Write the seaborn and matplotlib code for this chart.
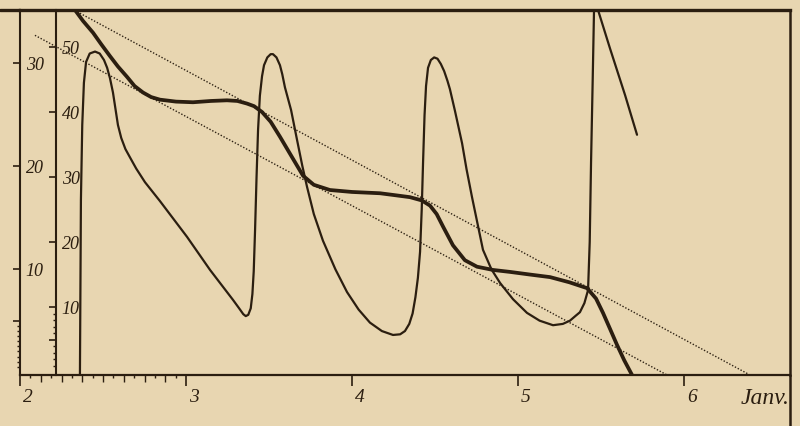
import matplotlib
matplotlib.use("Agg")
import matplotlib.pyplot as plt
import matplotlib.transforms as mtransforms
from matplotlib.lines import Line2D
from matplotlib.ticker import FixedLocator, FixedFormatter
import seaborn as sns

thick_days = [2.331, 2.38, 2.44, 2.49, 2.542, 2.59, 2.645, 2.69, 2.741, 2.79,
              2.843, 2.94, 3.042, 3.15, 3.247, 3.31, 3.367, 3.41, 3.458, 3.51,
              3.566, 3.64, 3.705, 3.77, 3.867, 4.0, 4.169, 4.26, 4.349, 4.42,
              4.470, 4.51, 4.55, 4.608, 4.68, 4.753, 4.85, 4.952, 5.07, 5.193,
              5.31, 5.416, 5.47, 5.512, 5.555, 5.596, 5.64, 5.687]
thick_vals = [55.7, 54.0, 52.2, 50.4, 48.6, 47.0, 45.4, 44.0, 43.0, 42.3,
              41.9, 41.6, 41.5, 41.7, 41.8, 41.7, 41.3, 40.9, 40.0, 38.5,
              36.2, 33.0, 30.2, 28.8, 28.0, 27.7, 27.5, 27.2, 26.9, 26.4,
              25.6, 24.3, 22.3, 19.5, 17.2, 16.2, 15.7, 15.4, 15.0, 14.6,
              13.8, 12.9, 11.3, 9.1, 6.6, 4.2, 1.8, -0.46]

thin_days = [2.361, 2.367, 2.375, 2.385, 2.398, 2.42, 2.452, 2.48, 2.506, 2.525,
             2.542, 2.56, 2.572, 2.59, 2.61, 2.635, 2.663, 2.70, 2.753, 2.843,
             3.006, 3.145, 3.283, 3.32, 3.345, 3.36, 3.375, 3.39, 3.40, 3.408,
             3.416, 3.425, 3.434, 3.445, 3.458, 3.47, 3.49, 3.51, 3.524, 3.545,
             3.566, 3.58, 3.596, 3.633, 3.669, 3.70, 3.729, 3.77, 3.825, 3.90,
             3.970, 4.04, 4.108, 4.18, 4.247, 4.29, 4.319, 4.345, 4.365, 4.382,
             4.397, 4.41, 4.42, 4.428, 4.437, 4.446, 4.458, 4.475, 4.495, 4.515,
             4.535, 4.555, 4.575, 4.590, 4.62, 4.663, 4.69, 4.723, 4.789, 4.84,
             4.892, 4.97, 5.054, 5.13, 5.211, 5.27, 5.313, 5.345, 5.373, 5.40,
             5.422, 5.432, 5.440, 5.450, 5.458, 5.482, 5.554, 5.645, 5.717]
thin_vals = [-0.46, 26.5, 38.0, 44.5, 47.7, 49.0, 49.3, 49.0, 48.0, 46.8,
             45.2, 43.0, 41.0, 38.0, 36.0, 34.3, 33.0, 31.3, 29.2, 26.3,
             20.8, 15.7, 11.1, 9.8, 8.9, 8.6, 8.8, 9.8, 12.0, 15.5,
             21.8, 30.0, 37.2, 42.5, 45.5, 47.2, 48.4, 48.9, 48.9, 48.4,
             47.2, 45.8, 43.8, 40.3, 35.7, 31.8, 28.5, 24.3, 20.2, 15.8,
             12.3, 9.6, 7.6, 6.3, 5.7, 5.8, 6.3, 7.4, 9.0, 11.5,
             14.5, 18.5, 25.0, 32.2, 39.5, 44.0, 46.8, 48.0, 48.4, 48.2,
             47.4, 46.3, 44.8, 43.5, 40.2, 35.2, 31.2, 26.9, 18.8, 15.8,
             13.7, 11.2, 9.1, 7.9, 7.2, 7.4, 7.9, 8.6, 9.2, 10.6,
             12.6, 20.0, 32.2, 45.0, 55.7, 55.7, 49.8, 42.6, 36.5]

upper_days = [2.361, 6.386]
upper_vals = [55.2, -0.3]
lower_days = [2.090, 5.898]
lower_vals = [51.8, -0.46]

day_ticks = [2, 3, 4, 5, 6]
day_labels = ["2", "3", "4", "5", "6"]
inner_ticks = [5, 10, 20, 30, 40, 50]
inner_labels = ["", "10", "20", "30", "40", "50"]
outer_ticks = [5, 10, 20, 30]
outer_labels = ["", "10", "20", "30"]

paper = "#e8d6b1"
ink = "#2b1e10"

sns.set_theme(style="white", rc={"axes.facecolor": paper, "figure.facecolor": paper})
plt.rcParams["font.family"] = ["Liberation Serif", "DejaVu Serif"]
plt.rcParams["font.style"] = "italic"

fig = plt.figure(figsize=(8, 4.26), dpi=100)
ax = fig.add_axes([0.025, 0.1197, 0.9625, 0.8568])

sns.lineplot(x=upper_days, y=upper_vals, ax=ax, color="#2e2214", lw=1.0,
             linestyle=(0, (1, 1.3)), estimator=None, sort=False)
sns.lineplot(x=lower_days, y=lower_vals, ax=ax, color="#2e2214", lw=1.0,
             linestyle=(0, (1, 1.3)), estimator=None, sort=False)
sns.lineplot(x=thin_days, y=thin_vals, ax=ax, color=ink, lw=1.6,
             estimator=None, sort=False)
sns.lineplot(x=thick_days, y=thick_vals, ax=ax, color=ink, lw=2.7,
             estimator=None, sort=False)

ax.set_xlim(2, 2 + 770 / 166)
ax.set_ylim(-3 / 6.5, 362 / 6.5)
ax.set_xlabel("")
ax.set_ylabel("")

# cadre
for side in ["top", "right", "bottom", "left"]:
    ax.spines[side].set_color(ink)
ax.spines["top"].set_linewidth(2.4)
ax.spines["right"].set_linewidth(1.8)
ax.spines["bottom"].set_linewidth(1.6)
ax.spines["left"].set_linewidth(1.5)
ax.spines["left"].set_position(("data", 2 + 36 / 166))

# échelle intérieure
ax.yaxis.set_major_locator(FixedLocator(inner_ticks))
ax.yaxis.set_major_formatter(FixedFormatter(inner_labels))
ax.yaxis.set_minor_locator(FixedLocator([1, 2, 3, 4, 6, 7, 8, 9]))
ax.tick_params(axis="y", which="major", left=True, direction="out", length=5,
               width=1.2, color=ink, labelcolor=ink, labelsize=13, pad=-9)
ax.tick_params(axis="y", which="minor", left=True, direction="out", length=2,
               width=1, color=ink)
for lbl in ax.get_yticklabels():
    lbl.set_ha("left")

# échelle extérieure
outer = ax.secondary_yaxis(0.0, functions=(lambda v: v * 6.5 / 10.3,
                                           lambda v: v * 10.3 / 6.5))
outer.spines["left"].set_color(ink)
outer.spines["left"].set_linewidth(1.5)
outer.yaxis.set_major_locator(FixedLocator(outer_ticks))
outer.yaxis.set_major_formatter(FixedFormatter(outer_labels))
outer.yaxis.set_minor_locator(FixedLocator([0.5, 1, 1.5, 2, 2.5, 3, 3.5, 4, 4.5]))
outer.tick_params(axis="y", which="major", direction="out", length=5, width=1.2,
                  color=ink, labelcolor=ink, labelsize=13, pad=-9)
outer.tick_params(axis="y", which="minor", direction="out", length=2, width=1,
                  color=ink)
for lbl in outer.get_yticklabels():
    lbl.set_ha("left")

# jours
ax.xaxis.set_major_locator(FixedLocator(day_ticks))
ax.xaxis.set_major_formatter(FixedFormatter(day_labels))
ax.xaxis.set_minor_locator(FixedLocator([2 + k / 8 for k in range(1, 8)]))
ax.tick_params(axis="x", which="major", bottom=True, direction="out", length=8,
               width=1.2, color=ink, labelcolor=ink, labelsize=14, pad=2)
ax.tick_params(axis="x", which="minor", bottom=True, direction="out", length=5,
               width=1, color=ink)
shift = mtransforms.ScaledTranslation(8 / 100, 0, fig.dpi_scale_trans)
for lbl in ax.get_xticklabels():
    lbl.set_transform(lbl.get_transform() + shift)

hours = ax.secondary_xaxis("bottom")
hours.spines["bottom"].set_visible(False)
hours.xaxis.set_major_locator(FixedLocator([2 + k / 16 for k in range(1, 16, 2)]))
hours.xaxis.set_major_formatter(FixedFormatter([""] * 8))
hours.tick_params(axis="x", direction="out", length=2.5, width=1, color=ink)

ax.text(1.0, -0.035, "Janv.", transform=ax.transAxes, ha="right", va="top",
        fontsize=17, color=ink)

# prolongements du cadre gravé
fig.add_artist(Line2D([0, 0.025], [0.9765, 0.9765], color=ink, lw=2.4,
                      transform=fig.transFigure))
fig.add_artist(Line2D([0.9875, 0.9875], [0, 0.1197], color=ink, lw=1.8,
                      transform=fig.transFigure))

fig.savefig("out.png", dpi=100, facecolor=paper)
